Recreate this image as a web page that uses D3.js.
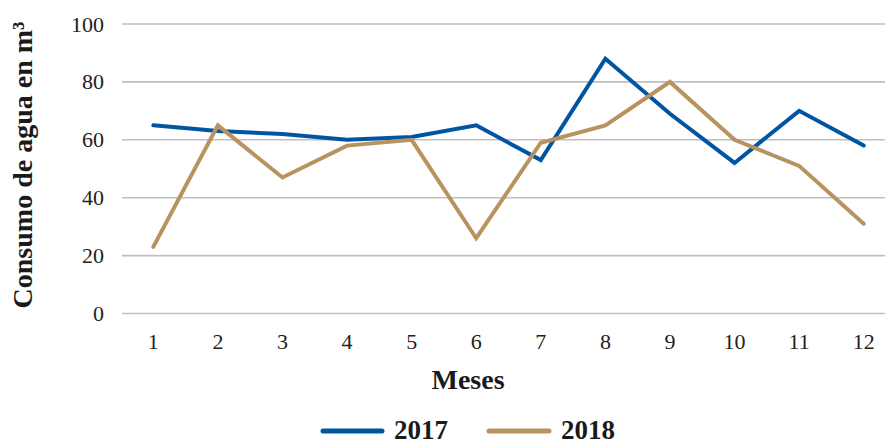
<!DOCTYPE html>
<html>
<head>
<meta charset="utf-8">
<script src="https://cdn.jsdelivr.net/npm/d3@7"></script>
<style>
  html, body { margin: 0; padding: 0; background: #fff; }
  svg { display: block; font-family: "Liberation Serif", "DejaVu Serif", serif; }
</style>
</head>
<body>
<svg id="chart" width="885" height="444"></svg>
<script>
// Monthly water consumption (m³), 2017 vs 2018
const months = [1, 2, 3, 4, 5, 6, 7, 8, 9, 10, 11, 12];
const values2017 = [65, 63, 62, 60, 61, 65, 53, 88, 69, 52, 70, 58];
const values2018 = [23, 65, 47, 58, 60, 26, 59, 65, 80, 60, 51, 31];
const yTicks = [0, 20, 40, 60, 80, 100];
const seriesNames = ["2017", "2018"];
const seriesColors = ["#0055a1", "#b8925f"];

const svg = d3.select("#chart");
const W = 885;

const x = d3.scaleBand().domain(months).range([121, 896]);
const y = d3.scaleLinear().domain([0, 100]).range([313.5, 24]);

// Horizontal gridlines with tick labels
const yAxis = d3.axisLeft(y).tickValues(yTicks).tickSize(0).tickPadding(0);
const gy = svg.append("g").attr("transform", "translate(104,0)").call(yAxis);
gy.select(".domain").remove();
gy.selectAll("text")
  .attr("font-size", 22)
  .attr("font-family", "Liberation Serif, serif")
  .attr("fill", "#222")
  .attr("x", 0);

svg.append("g").selectAll("line")
  .data(yTicks)
  .join("line")
  .attr("x1", 122).attr("x2", W)
  .attr("y1", d => y(d)).attr("y2", d => y(d))
  .attr("stroke", "#bfbfbf")
  .attr("stroke-width", 1.6);

// X axis labels
const xAxis = d3.axisBottom(x).tickSize(0).tickPadding(0);
const gx = svg.append("g").attr("transform", "translate(0,333)").call(xAxis);
gx.select(".domain").remove();
gx.selectAll("text")
  .attr("font-size", 22)
  .attr("font-family", "Liberation Serif, serif")
  .attr("fill", "#222")
  .attr("dy", "0.71em");

// Lines
const line = d3.line()
  .x((d, i) => x(months[i]) + x.bandwidth() / 2)
  .y(d => y(d));

[values2017, values2018].forEach((vals, k) => {
  svg.append("path")
    .datum(vals)
    .attr("fill", "none")
    .attr("stroke", seriesColors[k])
    .attr("stroke-width", 4)
    .attr("stroke-linejoin", "miter")
    .attr("stroke-linecap", "round")
    .attr("d", line);
});

// Axis titles
svg.append("text")
  .attr("x", 468).attr("y", 389)
  .attr("text-anchor", "middle")
  .attr("font-size", 28)
  .attr("font-weight", "bold")
  .attr("fill", "#1a1a1a")
  .text("Meses");

svg.append("text")
  .attr("transform", "translate(32,165) rotate(-90)")
  .attr("text-anchor", "middle")
  .attr("font-size", 28)
  .attr("font-weight", "bold")
  .attr("fill", "#1a1a1a")
  .text("Consumo de agua en m³");

// Legend
const legendItems = [
  { name: seriesNames[0], color: seriesColors[0], x1: 323, x2: 382, tx: 394 },
  { name: seriesNames[1], color: seriesColors[1], x1: 489, x2: 549, tx: 561 }
];
const lg = svg.append("g");
legendItems.forEach(it => {
  lg.append("line")
    .attr("x1", it.x1).attr("x2", it.x2)
    .attr("y1", 431).attr("y2", 431)
    .attr("stroke", it.color)
    .attr("stroke-width", 5)
    .attr("stroke-linecap", "round");
  lg.append("text")
    .attr("x", it.tx).attr("y", 439)
    .attr("font-size", 27)
    .attr("font-weight", "bold")
    .attr("fill", "#1a1a1a")
    .text(it.name);
});
</script>
</body>
</html>
